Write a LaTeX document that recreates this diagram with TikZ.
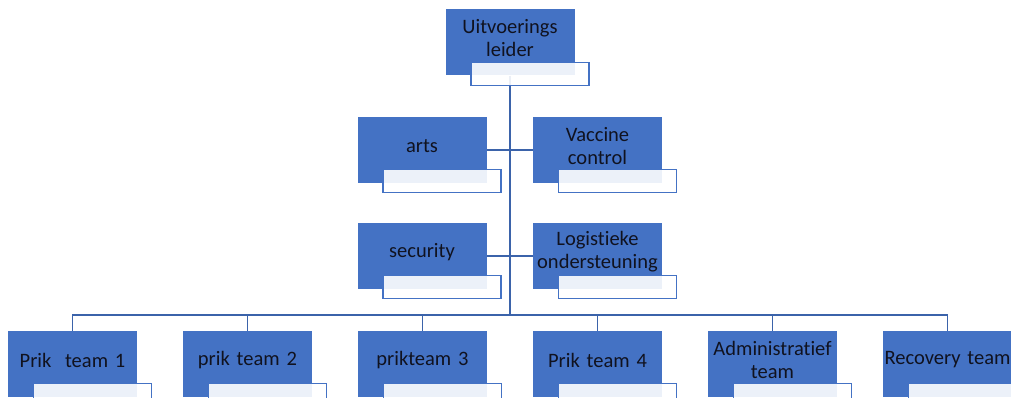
\documentclass[tikz,border=0pt]{standalone}
\usepackage{fontspec}
\setmainfont[Ligatures=NoCommon]{Carlito}
\usetikzlibrary{positioning}
\usetikzlibrary{backgrounds}
\definecolor{boxblue}{HTML}{4472C4}
\definecolor{lineblue}{HTML}{3B63AA}
\definecolor{boxtext}{HTML}{10121F}

\begin{document}
\begin{tikzpicture}[
	x=1pt, y=-1pt,
	box/.style = {fill=boxblue, minimum width=129pt, minimum height=66pt, inner sep=0pt,
		text width=127pt, align=center, text=boxtext, font=\fontsize{20.5}{23}\selectfont,
		execute at end node={\endgraf\vspace*{8pt}}},
	subbox/.style = {draw=boxblue, line width=1.2pt, fill=white, fill opacity=0.9, draw opacity=1,
		minimum width=118pt, minimum height=23pt, inner sep=0pt, anchor=north west},
	conn/.style = {draw=lineblue, line width=1.3pt}
	]
	\useasboundingbox (0,0) rectangle (1011,398);

	\node[box] (top) at (510,42.5) {Uitvoerings\\leider};

	\node[box] (arts) at (422,150) {arts};
	\node[box] (vac) at (597.5,150) {Vaccine\\control};
	\node[box] (sec) at (422,256) {security};
	\node[box] (log) at (597.5,256) {Logistieke\\ondersteuning};

	\node[box] (p1) at (72.5,364) {Prik\ \ team 1};
	\node[box] (p2) at (247.5,364) {prik team 2};
	\node[box] (p3) at (422.5,364) {prikteam 3};
	\node[box] (p4) at (597.5,364) {Prik team 4};
	\node[box] (p5) at (772.5,364) {Administratief\\team};
	\node[box] (p6) at (947.5,364) {Recovery team};

	\foreach \n in {top,arts,vac,sec,log,p1,p2,p3,p4,p5,p6}
		\node[subbox] (\n-sub) at ([xshift=25pt,yshift=14pt]\n.south west) {};

	\coordinate (bar) at (510,315);

	\begin{scope}[on background layer]
		\draw[conn] (top.south) -- (top.south |- bar);
		\draw[conn] (arts.east) -- (vac.west);
		\draw[conn] (sec.east) -- (log.west);
		\foreach \n in {p1,p2,p3,p4,p5,p6}
			\draw[conn] (top.south |- bar) -| (\n.north);
	\end{scope}

\end{tikzpicture}
\end{document}
